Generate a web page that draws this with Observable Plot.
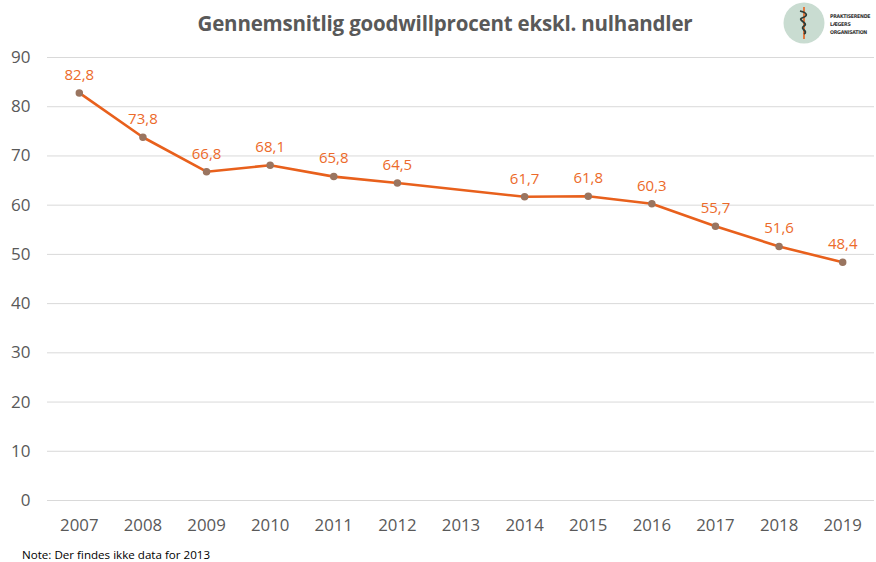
<!DOCTYPE html>
<html><head><meta charset="utf-8">
<script src="https://cdn.jsdelivr.net/npm/d3@7"></script>
<script src="https://cdn.jsdelivr.net/npm/@observablehq/plot@0.6"></script>
<style>
body{margin:0;background:#fff;}
#wrap{position:relative;width:876px;height:562px;overflow:hidden;font-family:"Open Sans",sans-serif;}
#title{position:absolute;top:9px;left:0;width:890px;text-align:center;font-weight:bold;font-size:20.5px;color:#595959;letter-spacing:-0.2px;}
#note{position:absolute;left:22px;top:547px;font-size:11.6px;color:#000;}
#logo{position:absolute;left:780px;top:1px;}
#chart{position:absolute;left:0;top:0;}
</style></head>
<body><div id="wrap">
<div id="chart"></div>
<div id="title">Gennemsnitlig goodwillprocent ekskl. nulhandler</div>
<svg id="logo" width="94" height="46">
  <circle cx="24" cy="22" r="20.5" fill="#c9dcd1"/>
  <path d="M24 6 L24 38" stroke="#e8601c" stroke-width="1.6"/>
  <path d="M20 10 C28 12, 28 15, 22 17 C17 19, 29 22, 24 25 C19 28, 29 30, 24 33" stroke="#2f3b36" stroke-width="1.8" fill="none"/>
  <g font-family="DejaVu Sans Condensed, sans-serif" font-stretch="condensed" font-weight="bold" font-size="5.2" letter-spacing="-0.25" fill="#333">
  <text x="50" y="17">PRAKTISERENDE</text>
  <text x="50" y="25">LÆGERS</text>
  <text x="50" y="33">ORGANISATION</text>
  </g>
</svg>
<div id="note">Note: Der findes ikke data for 2013</div>
</div>
<script>
const years = ["2007","2008","2009","2010","2011","2012","2013","2014","2015","2016","2017","2018","2019"];
const dataYears = ["2007","2008","2009","2010","2011","2012","2014","2015","2016","2017","2018","2019"];
const values = [82.8,73.8,66.8,68.1,65.8,64.5,61.7,61.8,60.3,55.7,51.6,48.4];
const yTicks = [0,10,20,30,40,50,60,70,80,90];

const data = dataYears.map((y,i)=>({year:y, value:values[i], label:values[i].toFixed(1).replace(".",",")}));

const chart = Plot.plot({
  width: 876, height: 562,
  marginTop: 57, marginBottom: 62, marginLeft: 47, marginRight: 2,
  style: {fontFamily: "'Open Sans', sans-serif", background: "white"},
  x: {type: "point", domain: years, padding: 0.5, round: false, label: null, tickSize: 0},
  y: {domain: [0, 90], ticks: yTicks, label: null, tickSize: 0},
  marks: [
    Plot.gridY(yTicks, {stroke: "#d9d9d9", strokeOpacity: 1, strokeWidth: 1}),
    Plot.axisY(yTicks, {tickSize: 0, tickPadding: 17, fontSize: 17, fill: "#595959", label: null}),
    Plot.axisX({tickSize: 0, tickPadding: 19, fontSize: 16.8, fill: "#595959", label: null}),
    Plot.line(data, {x: "year", y: "value", stroke: "#e8601c", strokeWidth: 2.6}),
    Plot.dot(data, {x: "year", y: "value", r: 3, fill: "#9a7560", stroke: "#9a7560"}),
    Plot.text(data, {x: "year", y: "value", text: "label", dy: -18, fontSize: 15, fill: "#ec6a2a"})
  ]
});
document.getElementById("chart").appendChild(chart);
</script>
</body></html>
